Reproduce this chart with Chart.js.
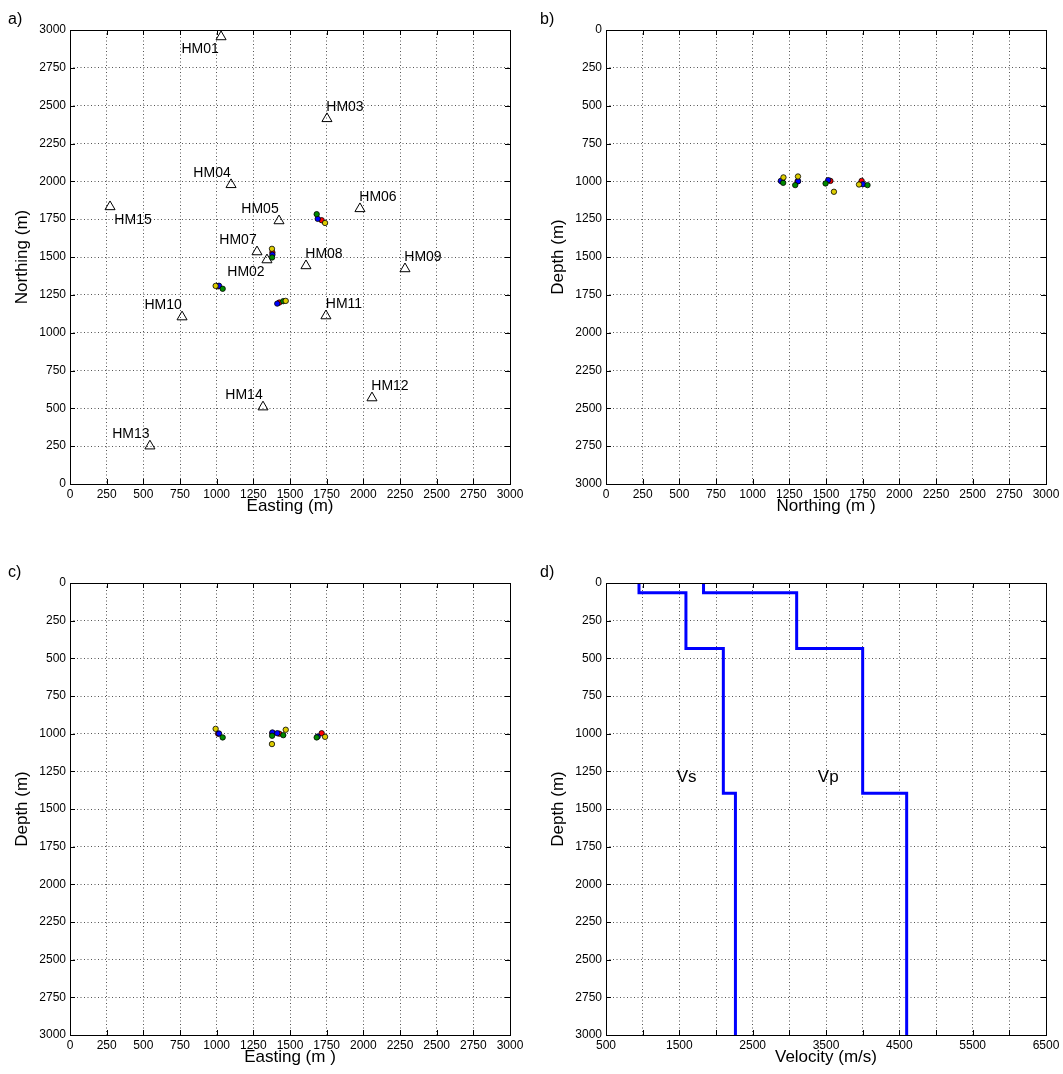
<!DOCTYPE html>
<html>
<head>
<meta charset="utf-8">
<script src="https://cdn.jsdelivr.net/npm/chart.js@4.4.1/dist/chart.umd.min.js"></script>
<style>
  html, body { margin: 0; padding: 0; background: #fff; }
  #wrap { position: relative; width: 1063px; height: 1074px; overflow: hidden; background: #fff; }
  #wrap canvas { position: absolute; left: 0; top: 0; }
</style>
</head>
<body>
<div id="wrap">
  <canvas id="panelA" width="1063" height="1074"></canvas>
  <canvas id="panelB" width="1063" height="1074"></canvas>
  <canvas id="panelC" width="1063" height="1074"></canvas>
  <canvas id="panelD" width="1063" height="1074"></canvas>
</div>
<script>
// ---- Station network (m) ----
const stationNames    = ['HM01','HM02','HM03','HM04','HM05','HM06','HM07','HM08','HM09','HM10','HM11','HM12','HM13','HM14','HM15'];
const stationEasting  = [1030, 1343, 1752, 1098, 1425, 1977, 1275, 1609, 2284,  764, 1745, 2059,  545, 1316,  273];
const stationNorthing = [2955, 1481, 2414, 1978, 1739, 1819, 1534, 1442, 1422, 1104, 1111,  569,  251,  509, 1832];

// ---- Located events, one series per colour (m) ----
const redEasting     = [1010, 1380, 1427, 1716];
const redNorthing    = [1306, 1530, 1199, 1743];
const redDepth       = [1000,  997, 1000,  997];
const blueEasting    = [1016, 1380, 1413, 1689];
const blueNorthing   = [1310, 1515, 1192, 1752];
const blueDepth      = [ 999,  992,  997, 1019];
const greenEasting   = [1041, 1378, 1454, 1682];
const greenNorthing  = [1290, 1497, 1208, 1783];
const greenDepth     = [1025, 1014, 1010, 1025];
const yellowEasting  = [ 993, 1377, 1471, 1739];
const yellowNorthing = [1309, 1554, 1210, 1725];
const yellowDepth    = [ 968, 1069,  974, 1021];

// ---- 1-D velocity model ----
const layerTop    = [0, 65, 435, 1395];
const modelBottom = 3000;
const vsLayers    = [950, 1590, 2100, 2265];
const vpLayers    = [1830, 3100, 4000, 4600];

// ---- Axis ranges / ticks ----
const distTicksStep = 250;
const velTickStep   = 500;

const FONT = '"Liberation Sans", Arial, Helvetica, sans-serif';
const W = 1063, H = 1074;

// plot-area rectangles of the four panels
const AREAS = {
  a: { left: 70,  top: 30,  right: 510,  bottom: 484 },
  b: { left: 606, top: 30,  right: 1046, bottom: 484 },
  c: { left: 70,  top: 583, right: 510,  bottom: 1035 },
  d: { left: 606, top: 583, right: 1046, bottom: 1035 }
};
const Y_AXIS_W = 70, X_AXIS_H = 46;

const zip = (xs, ys) => xs.map((x, i) => ({ x, y: ys[i] }));

function stepProfile(v) {
  const pts = [];
  for (let i = 0; i < v.length; i++) {
    const top = layerTop[i];
    const bot = i < v.length - 1 ? layerTop[i + 1] : modelBottom;
    pts.push({ x: v[i], y: top }, { x: v[i], y: bot });
  }
  return pts;
}

function xScale(min, max, step, title, labelFn) {
  return {
    type: 'linear', position: 'bottom', min, max,
    ticks: {
      stepSize: step, autoSkip: false, maxRotation: 0, minRotation: 0,
      padding: 3, color: '#000', font: { family: FONT, size: 12 },
      callback: labelFn || (v => String(v))
    },
    grid: { color: '#555', lineWidth: 1, drawTicks: false },
    border: { display: false, dash: [1, 2.5] },
    title: { display: true, text: title, color: '#000', font: { family: FONT, size: 17 }, padding: { top: 0, bottom: 13 } },
    afterFit: s => { s.height = X_AXIS_H; }
  };
}

function yScale(reverse, title) {
  return {
    type: 'linear', position: 'left', min: 0, max: 3000, reverse,
    ticks: {
      stepSize: distTicksStep, autoSkip: false, padding: 4,
      color: '#000', font: { family: FONT, size: 12 },
      callback: v => String(v)
    },
    grid: { color: '#555', lineWidth: 1, drawTicks: false },
    border: { display: false, dash: [1, 2.5] },
    title: { display: true, text: title, color: '#000', font: { family: FONT, size: 17 }, padding: { top: 12, bottom: 0 } },
    afterFit: s => { s.width = Y_AXIS_W; }
  };
}

function layoutFor(key) {
  const a = AREAS[key];
  return { padding: { left: a.left - Y_AXIS_W, top: a.top, right: W - a.right, bottom: H - a.bottom - X_AXIS_H } };
}

// axes box with inward tick marks on all four sides
const boxPlugin = {
  id: 'axesBox',
  afterDatasetsDraw(chart) {
    const { ctx, chartArea: ca, scales } = chart;
    const len = 5;
    ctx.save();
    ctx.strokeStyle = '#000';
    ctx.lineWidth = 1;
    ctx.beginPath();
    scales.x.ticks.forEach(t => {
      const px = Math.round(scales.x.getPixelForValue(t.value)) + 0.5;
      ctx.moveTo(px, ca.bottom); ctx.lineTo(px, ca.bottom - len);
      ctx.moveTo(px, ca.top);    ctx.lineTo(px, ca.top + len);
    });
    scales.y.ticks.forEach(t => {
      const py = Math.round(scales.y.getPixelForValue(t.value)) + 0.5;
      ctx.moveTo(ca.left, py);  ctx.lineTo(ca.left + len, py);
      ctx.moveTo(ca.right, py); ctx.lineTo(ca.right - len, py);
    });
    ctx.stroke();
    ctx.strokeRect(Math.round(ca.left) + 0.5, Math.round(ca.top) + 0.5,
                   Math.round(ca.right - ca.left), Math.round(ca.bottom - ca.top));
    ctx.restore();
  }
};

// panel letter in the top-left corner
const panelLetterPlugin = {
  id: 'panelLetter',
  afterDraw(chart, args, opts) {
    const { ctx } = chart;
    ctx.save();
    ctx.fillStyle = '#000';
    ctx.font = '16px ' + FONT;
    ctx.textAlign = 'left';
    ctx.textBaseline = 'alphabetic';
    ctx.fillText(opts.text, opts.x, opts.y);
    ctx.restore();
  }
};

// station names beside the triangles
const stationLabelPlugin = {
  id: 'stationLabels',
  afterDatasetsDraw(chart, args, opts) {
    const { ctx, scales } = chart;
    const off = { nw: [-19, -12], ne: [18, -12], sw: [-21, 12], se: [23, 13] };
    ctx.save();
    ctx.fillStyle = '#000';
    ctx.font = '14px ' + FONT;
    ctx.textAlign = 'center';
    ctx.textBaseline = 'middle';
    stationNames.forEach((name, i) => {
      const px = scales.x.getPixelForValue(stationEasting[i]);
      const py = scales.y.getPixelForValue(stationNorthing[i]);
      const d = off[opts.placement[name]];
      ctx.fillText(name, px + d[0], py + d[1]);
    });
    ctx.restore();
  }
};

// Vs / Vp annotations in the velocity panel
const modelLabelPlugin = {
  id: 'modelLabels',
  afterDatasetsDraw(chart, args, opts) {
    const { ctx, scales } = chart;
    ctx.save();
    ctx.fillStyle = '#000';
    ctx.font = '17px ' + FONT;
    ctx.textAlign = 'center';
    ctx.textBaseline = 'middle';
    opts.items.forEach(it => {
      ctx.fillText(it.text, scales.x.getPixelForValue(it.v), scales.y.getPixelForValue(it.z));
    });
    ctx.restore();
  }
};

const EVENT_STYLE = {
  red:    '#ff0000',
  blue:   '#0000ff',
  green:  '#008a00',
  yellow: '#dccc00'
};

function eventSets(xsByColour, ysByColour) {
  const order = { red: 4, blue: 3, green: 2, yellow: 1 };
  return Object.keys(xsByColour).map(c => ({
    label: c,
    data: zip(xsByColour[c], ysByColour[c]),
    order: order[c],
    pointStyle: 'circle',
    pointRadius: 2.7,
    pointBorderWidth: 0.8,
    pointBorderColor: '#000',
    pointBackgroundColor: EVENT_STYLE[c],
    showLine: false
  }));
}

const eastings  = { red: redEasting,  blue: blueEasting,  green: greenEasting,  yellow: yellowEasting };
const northings = { red: redNorthing, blue: blueNorthing, green: greenNorthing, yellow: yellowNorthing };
const depths    = { red: redDepth,    blue: blueDepth,    green: greenDepth,    yellow: yellowDepth };

const common = {
  responsive: false,
  animation: false,
  events: [],
  plugins: { legend: { display: false }, tooltip: { enabled: false } }
};

// a) map view
new Chart(document.getElementById('panelA'), {
  type: 'scatter',
  data: {
    datasets: [
      {
        label: 'stations',
        data: zip(stationEasting, stationNorthing),
        order: 10,
        pointStyle: 'triangle',
        pointRadius: 5.8,
        pointBorderWidth: 1,
        pointBorderColor: '#000',
        pointBackgroundColor: 'rgba(0,0,0,0)'
      },
      ...eventSets(eastings, northings)
    ]
  },
  options: {
    ...common,
    layout: layoutFor('a'),
    scales: { x: xScale(0, 3000, distTicksStep, 'Easting (m)'), y: yScale(false, 'Northing (m)') },
    plugins: {
      ...common.plugins,
      panelLetter: { text: 'a)', x: 8, y: 24 },
      stationLabels: {
        placement: {
          HM01: 'sw', HM02: 'sw', HM03: 'ne', HM04: 'nw', HM05: 'nw', HM06: 'ne', HM07: 'nw', HM08: 'ne',
          HM09: 'ne', HM10: 'nw', HM11: 'ne', HM12: 'ne', HM13: 'nw', HM14: 'nw', HM15: 'se'
        }
      }
    }
  },
  plugins: [boxPlugin, panelLetterPlugin, stationLabelPlugin]
});

// b) north-depth section
new Chart(document.getElementById('panelB'), {
  type: 'scatter',
  data: { datasets: eventSets(northings, depths) },
  options: {
    ...common,
    layout: layoutFor('b'),
    scales: { x: xScale(0, 3000, distTicksStep, 'Northing (m )'), y: yScale(true, 'Depth (m)') },
    plugins: { ...common.plugins, panelLetter: { text: 'b)', x: 540, y: 24 } }
  },
  plugins: [boxPlugin, panelLetterPlugin]
});

// c) east-depth section
new Chart(document.getElementById('panelC'), {
  type: 'scatter',
  data: { datasets: eventSets(eastings, depths) },
  options: {
    ...common,
    layout: layoutFor('c'),
    scales: { x: xScale(0, 3000, distTicksStep, 'Easting (m )'), y: yScale(true, 'Depth (m)') },
    plugins: { ...common.plugins, panelLetter: { text: 'c)', x: 8, y: 577 } }
  },
  plugins: [boxPlugin, panelLetterPlugin]
});

// d) velocity model
const profileStyle = {
  showLine: true, pointRadius: 0, borderColor: '#0000ff', borderWidth: 3,
  borderJoinStyle: 'miter', borderCapStyle: 'butt', fill: false, tension: 0
};
new Chart(document.getElementById('panelD'), {
  type: 'scatter',
  data: {
    datasets: [
      { label: 'Vs', data: stepProfile(vsLayers), ...profileStyle },
      { label: 'Vp', data: stepProfile(vpLayers), ...profileStyle }
    ]
  },
  options: {
    ...common,
    layout: layoutFor('d'),
    scales: {
      x: xScale(500, 6500, velTickStep, 'Velocity (m/s)', v => ((v - 500) % 1000 === 0 ? String(v) : '')),
      y: yScale(true, 'Depth (m)')
    },
    plugins: {
      ...common.plugins,
      panelLetter: { text: 'd)', x: 540, y: 577 },
      modelLabels: { items: [ { text: 'Vs', v: 1600, z: 1290 }, { text: 'Vp', v: 3530, z: 1290 } ] }
    }
  },
  plugins: [boxPlugin, panelLetterPlugin, modelLabelPlugin]
});
</script>
</body>
</html>
